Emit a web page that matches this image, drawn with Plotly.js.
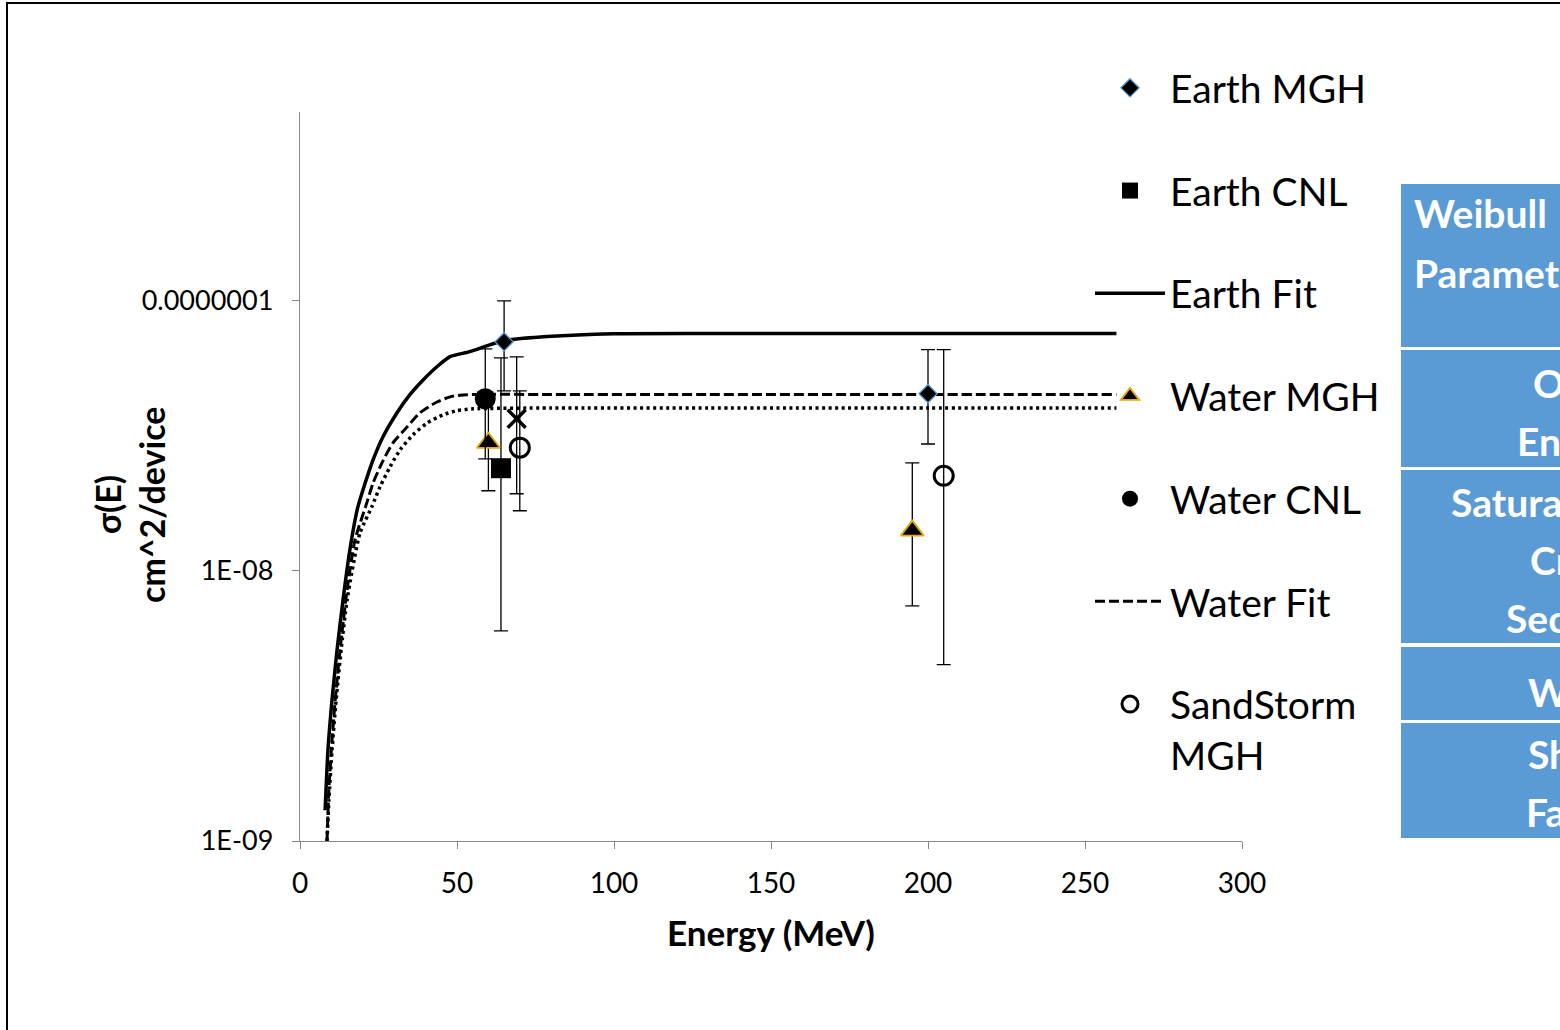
<!DOCTYPE html>
<html>
<head>
<meta charset="utf-8">
<script src="https://cdn.plot.ly/plotly-3.0.1.min.js"></script>
<style>
html,body{margin:0;padding:0;background:#fff;overflow:hidden;}
#chart{width:1560px;height:1030px;}
</style>
</head>
<body>
<div id="chart"></div>
<script>
// ---------- data ----------
const earthMGH_E = [65, 200];
const earthMGH_S = [7.05e-8, 4.53e-8];
const earthMGH_up = [2.95e-8, 2.06e-8];
const earthMGH_dn = [2.41e-8, 1.58e-8];

const earthCNL_E = [64];
const earthCNL_S = [2.40e-8];
const earthCNL_up = [3.75e-8];
const earthCNL_dn = [1.80e-8];

const waterMGH_E = [60, 195];
const waterMGH_S = [2.98e-8, 1.41e-8];
const waterMGH_up = [1.47e-8, 1.10e-8];
const waterMGH_dn = [1.00e-8, 6.68e-9];

const waterCNL_E = [59];
const waterCNL_S = [4.34e-8];
const waterCNL_up = [2.30e-8];
const waterCNL_dn = [1.74e-8];

const sandMGH_E = [70, 205];
const sandMGH_S = [2.86e-8, 2.25e-8];
const sandMGH_up = [1.78e-8, 4.34e-8];
const sandMGH_dn = [1.19e-8, 1.80e-8];

const sandCNL_E = [69];
const sandCNL_S = [3.66e-8];
const sandCNL_up = [2.54e-8];
const sandCNL_dn = [1.73e-8];

const earthFit_E = [8.0, 8.9, 10.2, 11.8, 13.7, 15.9, 18.3, 20.1, 23.3, 26.4, 30.9, 35.0, 39.2, 43.6, 47.8, 54.1, 64.7, 78.7, 99.7, 130, 180, 260];
const earthFit_S = [1.30e-9, 2.17e-9, 3.33e-9, 5.10e-9, 7.81e-9, 1.20e-8, 1.70e-8, 2.00e-8, 2.58e-8, 3.13e-8, 3.85e-8, 4.49e-8, 5.09e-8, 5.70e-8, 6.21e-8, 6.48e-8, 7.11e-8, 7.37e-8, 7.55e-8, 7.57e-8, 7.57e-8, 7.57e-8];

const waterFit_E = [8.6, 9.2, 10.2, 11.5, 13.1, 15.0, 17.5, 21.3, 23.3, 26.1, 29.6, 34.1, 38.2, 43.6, 47.8, 53.2, 80, 130, 200, 260];
const waterFit_S = [1.0e-9, 1.55e-9, 2.37e-9, 3.62e-9, 5.55e-9, 8.5e-9, 1.30e-8, 1.79e-8, 2.12e-8, 2.51e-8, 2.98e-8, 3.41e-8, 3.85e-8, 4.22e-8, 4.41e-8, 4.49e-8, 4.50e-8, 4.50e-8, 4.50e-8, 4.50e-8];

const sandFit_E = [8.6, 9.2, 10.2, 11.5, 13.1, 15.0, 19.1, 22.9, 25.5, 28.7, 31.9, 36.0, 40.5, 45.5, 50.0, 55.1, 80, 130, 200, 260];
const sandFit_S = [1.0e-9, 1.42e-9, 2.17e-9, 3.33e-9, 5.10e-9, 7.81e-9, 1.38e-8, 1.73e-8, 2.05e-8, 2.43e-8, 2.81e-8, 3.19e-8, 3.53e-8, 3.78e-8, 3.92e-8, 3.98e-8, 4.01e-8, 4.01e-8, 4.01e-8, 4.01e-8];

const yTickVals = [1e-9, 1e-8, 1e-7];
const yTickText = ['1E-09', '1E-08', '0.0000001'];
const xTickVals = [0, 50, 100, 150, 200, 250, 300];

const tableHeader = ['Weibull', 'Parameter'];
const tableRows = [['Onset', 'Energy'], ['Saturation', 'Cross', 'Section'], ['Width'], ['Shape', 'Factor']];

// ---------- layout helpers ----------
const W = 1560, H = 1030;
const L = 300, R = 1242, T = 112, B = 841;
const px = v => (v - L) / (R - L);
const py = v => (B - v) / (B - T);
const FONT = 'Lato, "Open Sans", sans-serif';

function errY(up, dn) {
  return {type: 'data', symmetric: false, array: up, arrayminus: dn, color: '#000', thickness: 1.3, width: 7};
}

const traces = [
  {name: 'Earth Fit', x: earthFit_E, y: earthFit_S, mode: 'lines', legendrank: 3, legendgroup: 'g3',
   line: {color: '#000', width: 3.5, shape: 'spline', smoothing: 0.6}},
  {name: 'Water Fit', x: waterFit_E, y: waterFit_S, mode: 'lines', legendrank: 6, legendgroup: 'g6',
   line: {color: '#000', width: 3, dash: '10px,4px', shape: 'spline', smoothing: 0.6}},
  {name: 'SandStorm Fit', x: sandFit_E, y: sandFit_S, mode: 'lines', showlegend: false,
   line: {color: '#000', width: 3.5, dash: '3px,3.5px', shape: 'spline', smoothing: 0.6}},
  {name: 'Earth CNL', x: earthCNL_E, y: earthCNL_S, mode: 'markers', legendrank: 2, legendgroup: 'g2',
   error_y: errY(earthCNL_up, earthCNL_dn),
   marker: {symbol: 'square', size: 20, color: '#000'}},
  {name: 'Water MGH', x: waterMGH_E, y: waterMGH_S, mode: 'markers', legendrank: 4, legendgroup: 'g4',
   error_y: errY(waterMGH_up, waterMGH_dn),
   marker: {symbol: 'triangle-up', size: 20, color: '#000', line: {color: '#E8A800', width: 1.8}}},
  {name: 'Water CNL', x: waterCNL_E, y: waterCNL_S, mode: 'markers', legendrank: 5, legendgroup: 'g5',
   error_y: errY(waterCNL_up, waterCNL_dn),
   marker: {symbol: 'circle', size: 21, color: '#000'}},
  {name: 'SandStorm CNL', x: sandCNL_E, y: sandCNL_S, mode: 'markers', showlegend: false,
   error_y: errY(sandCNL_up, sandCNL_dn),
   marker: {symbol: 'x-thin-open', size: 18, color: '#000', line: {color: '#000', width: 3.5}}},
  {name: 'SandStorm<br>MGH', x: sandMGH_E, y: sandMGH_S, mode: 'markers', legendrank: 7, legendgroup: 'g7',
   error_y: errY(sandMGH_up, sandMGH_dn),
   marker: {symbol: 'circle-open', size: 19, color: '#000', line: {color: '#000', width: 3}}},
  {name: 'Earth MGH', x: earthMGH_E, y: earthMGH_S, mode: 'markers', legendrank: 1, legendgroup: 'g1',
   error_y: errY(earthMGH_up, earthMGH_dn),
   marker: {symbol: 'diamond', size: 14, color: '#000', line: {color: '#5B9BD5', width: 1.3}}}
];

// table on the right (decorative panel)
const shapes = [
  {type: 'rect', xref: 'paper', yref: 'paper', x0: px(7), x1: px(1600), y0: py(3), y1: py(1100),
   line: {color: '#000', width: 2}, fillcolor: 'rgba(0,0,0,0)', layer: 'below'}
];
const rowBands = [[184, 347], [350, 467], [470, 643], [647, 720], [723, 838]];
rowBands.forEach(b => shapes.push({type: 'rect', xref: 'paper', yref: 'paper',
  x0: px(1401), x1: px(1600), y0: py(b[0]), y1: py(b[1]), line: {width: 0}, fillcolor: '#5B9BD5'}));

const annotations = [];
const cellFont = {family: FONT, size: 39, color: '#fff', weight: 'bold'};
function cellText(t, xLeft, yc) {
  annotations.push({text: '<b>' + t + '</b>', xref: 'paper', yref: 'paper', x: px(xLeft), y: py(yc),
    xanchor: 'left', yanchor: 'middle', showarrow: false, font: cellFont});
}
cellText(tableHeader[0], 1412, 213);
cellText(tableHeader[1], 1412, 273);
cellText(tableRows[0][0], 1531, 383);
cellText(tableRows[0][1], 1515, 441);
cellText(tableRows[1][0], 1449, 502);
cellText(tableRows[1][1], 1528, 560);
cellText(tableRows[1][2], 1504, 618);
cellText(tableRows[2][0], 1526, 692);
cellText(tableRows[3][0], 1526, 754);
cellText(tableRows[3][1], 1524, 812);

// y axis title (two lines, rotated)
annotations.push({text: '<b>σ(E)</b>', xref: 'paper', yref: 'paper', x: px(107), y: py(505),
  textangle: -90, showarrow: false, xanchor: 'center', yanchor: 'middle', font: {family: FONT, size: 34, color: '#000'}});
annotations.push({text: '<b>cm^2/device</b>', xref: 'paper', yref: 'paper', x: px(151), y: py(505),
  textangle: -90, showarrow: false, xanchor: 'center', yanchor: 'middle', font: {family: FONT, size: 34, color: '#000'}});

const layout = {
  width: W, height: H,
  margin: {l: L, r: W - R, t: T, b: H - B, pad: 0},
  paper_bgcolor: '#fff', plot_bgcolor: '#fff',
  font: {family: FONT, color: '#000'},
  showlegend: true,
  legend: {x: px(1090), y: py(56), xanchor: 'left', yanchor: 'top', bgcolor: 'rgba(0,0,0,0)',
    font: {family: FONT, size: 39, color: '#000'}, tracegroupgap: 49, valign: 'top', itemwidth: 70,
    maxheight: 2000},
  xaxis: {range: [0, 300], tickvals: xTickVals, ticks: 'outside', ticklen: 7, tickcolor: '#878787',
    showline: true, linecolor: '#878787', linewidth: 1.3, showgrid: false, zeroline: false,
    ticklabelstandoff: 10,
    tickfont: {family: FONT, size: 28, color: '#000'},
    title: {text: '<b>Energy (MeV)</b>', font: {family: FONT, size: 35, color: '#000'}, standoff: 23}},
  yaxis: {type: 'log', range: [-9, Math.log10(5e-7)], tickvals: yTickVals, ticktext: yTickText,
    ticks: 'outside', ticklen: 7, tickcolor: '#878787', showline: true, linecolor: '#878787', linewidth: 1.3,
    ticklabelstandoff: 13,
    showgrid: false, zeroline: false, tickfont: {family: FONT, size: 27, color: '#000'}},
  shapes: shapes,
  annotations: annotations
};

Plotly.newPlot('chart', traces, layout, {displayModeBar: false, staticPlot: true});
</script>
</body>
</html>
